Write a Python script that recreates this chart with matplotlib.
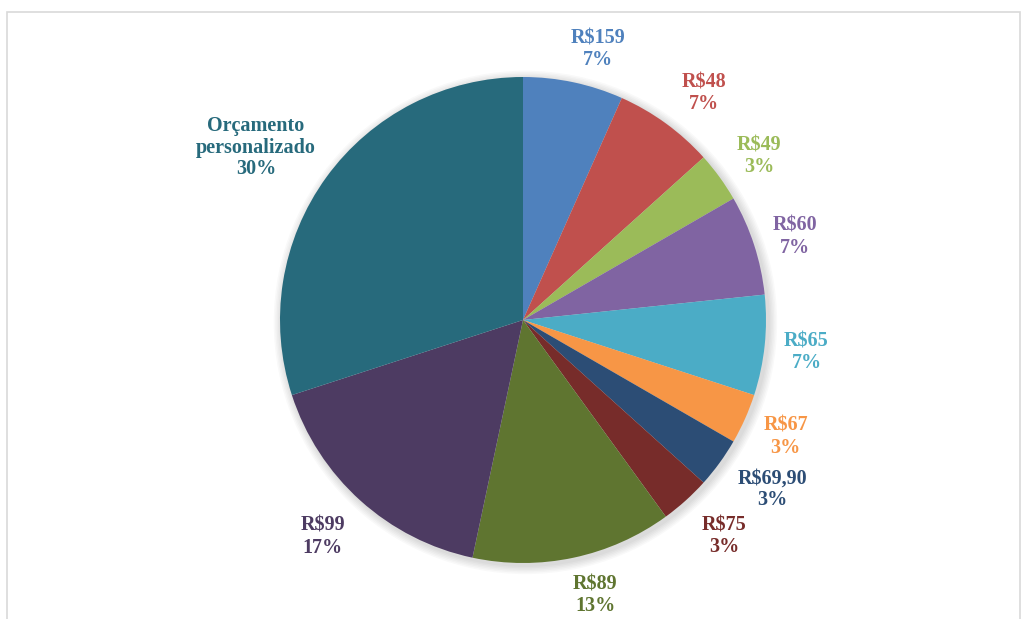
import numpy as np
import matplotlib.pyplot as plt
from matplotlib.patches import Rectangle

# data (answers per price option)
categorias = ['R$159', 'R$48', 'R$49', 'R$60', 'R$65', 'R$67', 'R$69,90',
              'R$75', 'R$89', 'R$99', 'Orçamento\npersonalizado']
respostas = [2, 2, 1, 2, 2, 1, 1, 1, 4, 5, 9]
cores = ['#4F81BD', '#C0504D', '#9BBB59', '#8064A2', '#4BACC6', '#F79646',
         '#2C4D75', '#772C2A', '#5F7530', '#4D3B62', '#276A7C']
# label placement (distance in radii, angle shift in degrees) like the Excel layout
dist = [1.167, 1.202, 1.189, 1.174, 1.173, 1.178, 1.234, 1.208, 1.160, 1.207, 1.314]
desvio = [-3.3, -2.2, -0.8, -0.5, 0.0, 0.5, 2.2, 1.2, 2.9, -1.1, 2.8]

W, H = 1026, 619
cx, cy, R = 523, 320, 243

fig = plt.figure(figsize=(W / 100, H / 100), dpi=100)
ax = fig.add_axes([0, 0, 1, 1])

wedges, _ = ax.pie(respostas, colors=cores, startangle=90, counterclock=False,
                   radius=1, wedgeprops=dict(linewidth=0))

# soft shadow around the pie
for k in range(6):
    c = plt.Circle((0.01, -0.01), 1 + 0.006 * (k + 1), color='#000000',
                   alpha=0.025, zorder=0, lw=0)
    ax.add_patch(c)

tot = sum(respostas)
for w, nome, n, cor, d, a in zip(wedges, categorias, respostas, cores, dist, desvio):
    ang = np.deg2rad((w.theta1 + w.theta2) / 2 + a)
    pct = round(n / tot * 100)
    ax.text(d * np.cos(ang), d * np.sin(ang) - 2.5 / R, f'{nome}\n{pct}%',
            ha='center', va='center', color=cor, fontsize=14.5,
            fontweight='bold', family='Liberation Serif', linespacing=1.12,
            parse_math=False)

ax.set_aspect('auto')
ax.set_xlim(-cx / R, (W - cx) / R)
ax.set_ylim(-(H - cy) / R, cy / R)
ax.axis('off')

# light frame of the chart area
fig.patches.append(Rectangle((7 / W, -0.05), (1020 - 7) / W, (H - 12) / H + 0.05,
                             transform=fig.transFigure, fill=False,
                             edgecolor='#d9d9d9', lw=1.2))

fig.savefig('out.png', dpi=100)
